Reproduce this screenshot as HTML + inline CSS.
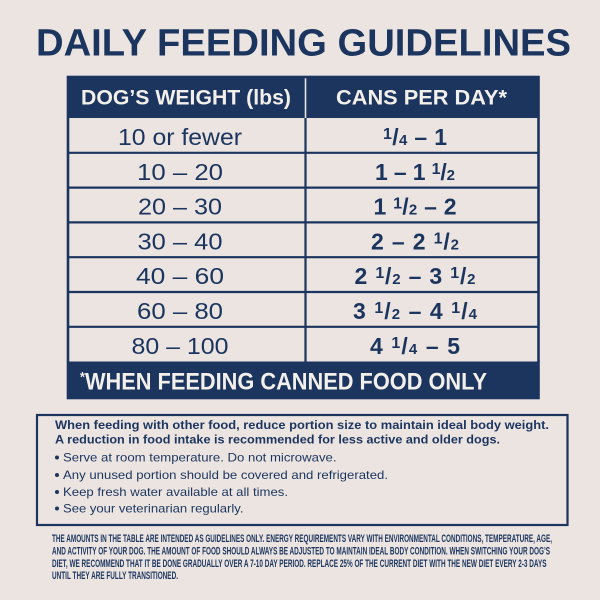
<!DOCTYPE html>
<html>
<head>
<meta charset="utf-8">
<style>
html,body{margin:0;padding:0;background:#ebe4e0;}
svg{display:block;}
</style>
</head>
<body>
<svg width="600" height="600" viewBox="0 0 600 600" xmlns="http://www.w3.org/2000/svg">
  <rect x="0" y="0" width="600" height="600" fill="#ebe4e0"/>

  <!-- Title -->
  <text x="36" y="55.5" font-family="Liberation Sans, sans-serif" font-weight="bold" font-size="38" fill="#1b355f" textLength="535" lengthAdjust="spacingAndGlyphs">DAILY FEEDING GUIDELINES</text>

  <!-- Table header -->
  <rect x="67" y="76" width="472" height="42" fill="#1b355f"/>
  <line x1="305.5" y1="77" x2="305.5" y2="118" stroke="#e9e3df" stroke-width="1.6"/>
  <text x="81" y="104.5" font-family="Liberation Sans, sans-serif" font-weight="bold" font-size="21" fill="#f3efeb" textLength="210" lengthAdjust="spacingAndGlyphs">DOG’S WEIGHT (lbs)</text>
  <text x="336" y="104.5" font-family="Liberation Sans, sans-serif" font-weight="bold" font-size="21" fill="#f3efeb" textLength="171" lengthAdjust="spacingAndGlyphs">CANS PER DAY*</text>

  <!-- Footer bar -->
  <rect x="67" y="361.5" width="472" height="37.5" fill="#1b355f"/>
  <text x="80" y="389.5" font-family="Liberation Sans, sans-serif" font-weight="bold" font-size="24" fill="#f3efeb" textLength="407" lengthAdjust="spacingAndGlyphs"><tspan font-size="14" dy="-8">*</tspan><tspan dy="8">WHEN FEEDING CANNED FOOD ONLY</tspan></text>

  <!-- Row lines -->
  <g stroke="#1b355f" stroke-width="2.2">
    <line x1="67" y1="152.8" x2="539" y2="152.8"/>
    <line x1="67" y1="187.6" x2="539" y2="187.6"/>
    <line x1="67" y1="222.4" x2="539" y2="222.4"/>
    <line x1="67" y1="257.2" x2="539" y2="257.2"/>
    <line x1="67" y1="292" x2="539" y2="292"/>
    <line x1="67" y1="326.8" x2="539" y2="326.8"/>
    <line x1="305.5" y1="118" x2="305.5" y2="362"/>
  </g>
  <!-- Outer border -->
  <rect x="68" y="77" width="470.5" height="321" fill="none" stroke="#1b355f" stroke-width="2.6"/>

  <!-- Left column -->
  <g font-family="Liberation Sans, sans-serif" font-size="23" fill="#1b355f" text-anchor="middle">
    <text x="180" y="145" textLength="124" lengthAdjust="spacingAndGlyphs">10 or fewer</text>
    <text x="180" y="180" textLength="86" lengthAdjust="spacingAndGlyphs">10 – 20</text>
    <text x="180" y="214.6" textLength="84" lengthAdjust="spacingAndGlyphs">20 – 30</text>
    <text x="180" y="249.4" textLength="85" lengthAdjust="spacingAndGlyphs">30 – 40</text>
    <text x="180" y="284" textLength="88" lengthAdjust="spacingAndGlyphs">40 – 60</text>
    <text x="180" y="319" textLength="86" lengthAdjust="spacingAndGlyphs">60 – 80</text>
    <text x="180" y="353.8" textLength="97" lengthAdjust="spacingAndGlyphs">80 – 100</text>
  </g>

  <!-- Right column -->
  <g font-family="Liberation Sans, sans-serif" font-weight="bold" font-size="23" fill="#1b355f" text-anchor="middle">
    <text x="415" y="145" textLength="64" lengthAdjust="spacing"><tspan font-size="16" dy="-6">1</tspan><tspan font-size="23" dy="6">/</tspan><tspan font-size="15">4</tspan> – 1</text>
    <text x="415" y="180" textLength="80" lengthAdjust="spacing">1 – 1 <tspan font-size="16" dy="-6">1</tspan><tspan font-size="23" dy="6">/</tspan><tspan font-size="15">2</tspan></text>
    <text x="415" y="214.6" textLength="83" lengthAdjust="spacing">1 <tspan font-size="16" dy="-6">1</tspan><tspan font-size="23" dy="6">/</tspan><tspan font-size="15">2</tspan> – 2</text>
    <text x="415" y="249.4" textLength="88" lengthAdjust="spacing">2 – 2 <tspan font-size="16" dy="-6">1</tspan><tspan font-size="23" dy="6">/</tspan><tspan font-size="15">2</tspan></text>
    <text x="415" y="284" textLength="121" lengthAdjust="spacing">2 <tspan font-size="16" dy="-6">1</tspan><tspan font-size="23" dy="6">/</tspan><tspan font-size="15">2</tspan> – 3 <tspan font-size="16" dy="-6">1</tspan><tspan font-size="23" dy="6">/</tspan><tspan font-size="15">2</tspan></text>
    <text x="415" y="319" textLength="124" lengthAdjust="spacing">3 <tspan font-size="16" dy="-6">1</tspan><tspan font-size="23" dy="6">/</tspan><tspan font-size="15">2</tspan> – 4 <tspan font-size="16" dy="-6">1</tspan><tspan font-size="23" dy="6">/</tspan><tspan font-size="15">4</tspan></text>
    <text x="415" y="353.8" textLength="90" lengthAdjust="spacing">4 <tspan font-size="16" dy="-6">1</tspan><tspan font-size="23" dy="6">/</tspan><tspan font-size="15">4</tspan> – 5</text>
  </g>

  <!-- Note box -->
  <rect x="37" y="415" width="530.5" height="110" fill="none" stroke="#1b355f" stroke-width="2.2"/>
  <g font-family="Liberation Sans, sans-serif" font-size="12" fill="#1b355f">
    <text x="55" y="429" font-weight="bold" textLength="494" lengthAdjust="spacingAndGlyphs">When feeding with other food, reduce portion size to maintain ideal body weight.</text>
    <text x="55" y="443.5" font-weight="bold" textLength="445" lengthAdjust="spacingAndGlyphs">A reduction in food intake is recommended for less active and older dogs.</text>
    <circle cx="57" cy="457.5" r="2"/>
    <text x="63" y="461.5" textLength="273.5" lengthAdjust="spacingAndGlyphs">Serve at room temperature. Do not microwave.</text>
    <circle cx="57" cy="475" r="2"/>
    <text x="63" y="479" textLength="325" lengthAdjust="spacingAndGlyphs">Any unused portion should be covered and refrigerated.</text>
    <circle cx="57" cy="492" r="2"/>
    <text x="63" y="496" textLength="225" lengthAdjust="spacingAndGlyphs">Keep fresh water available at all times.</text>
    <circle cx="57" cy="508.5" r="2"/>
    <text x="63" y="512.5" textLength="180.5" lengthAdjust="spacingAndGlyphs">See your veterinarian regularly.</text>
  </g>

  <!-- Fine print -->
  <g font-family="Liberation Sans, sans-serif" font-weight="bold" font-size="10.6" fill="#1b355f">
    <text x="52" y="542" textLength="500" lengthAdjust="spacingAndGlyphs">THE AMOUNTS IN THE TABLE ARE INTENDED AS GUIDELINES ONLY. ENERGY REQUIREMENTS VARY WITH ENVIRONMENTAL CONDITIONS, TEMPERATURE, AGE,</text>
    <text x="52" y="554.5" textLength="498" lengthAdjust="spacingAndGlyphs">AND ACTIVITY OF YOUR DOG. THE AMOUNT OF FOOD SHOULD ALWAYS BE ADJUSTED TO MAINTAIN IDEAL BODY CONDITION. WHEN SWITCHING YOUR DOG’S</text>
    <text x="52" y="566.8" textLength="494.5" lengthAdjust="spacingAndGlyphs">DIET, WE RECOMMEND THAT IT BE DONE GRADUALLY OVER A 7-10 DAY PERIOD. REPLACE 25% OF THE CURRENT DIET WITH THE NEW DIET EVERY 2-3 DAYS</text>
    <text x="52" y="579.2" textLength="126" lengthAdjust="spacingAndGlyphs">UNTIL THEY ARE FULLY TRANSITIONED.</text>
  </g>
</svg>
</body>
</html>
